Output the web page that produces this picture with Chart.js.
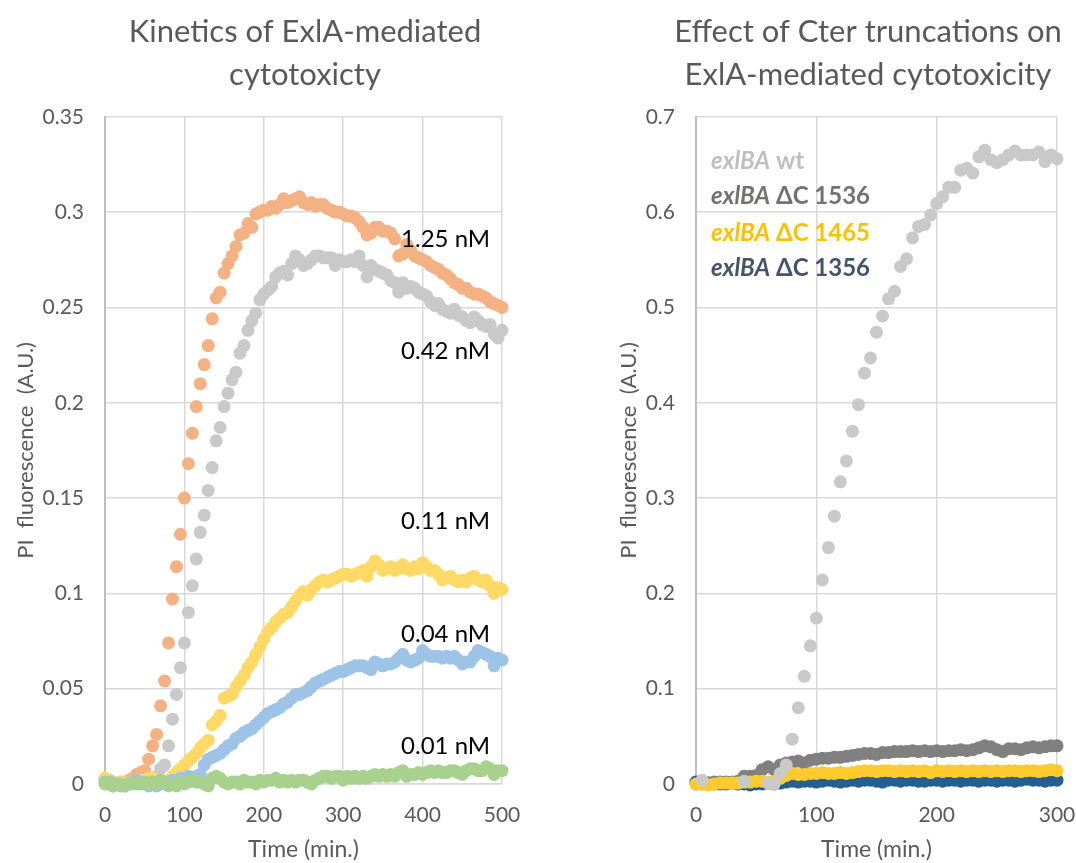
<!DOCTYPE html>
<html>
<head>
<meta charset="utf-8">
<script src="https://cdn.jsdelivr.net/npm/chart.js@4.4.0/dist/chart.umd.min.js"></script>
<style>
  html, body { margin: 0; padding: 0; background: #fff; }
  #wrap { position: relative; width: 1076px; height: 863px; overflow: hidden; }
  #leftBox { position: absolute; left: 0; top: 0; }
  #rightBox { position: absolute; left: 560px; top: 0; }
</style>
</head>
<body>
<div id="wrap">
  <div id="leftBox"><canvas id="kinetics" width="610" height="863"></canvas></div>
  <div id="rightBox"><canvas id="truncations" width="616" height="863"></canvas></div>
</div>
<script>
// ---- left panel: PI uptake for each ExlA concentration, sampled every 5 min ----
const kinTime = [0,5,10,15,20,25,30,35,40,45,50,55,60,65,70,75,80,85,90,95,
  100,105,110,115,120,125,130,135,140,145,150,155,160,165,170,175,180,185,190,195,
  200,205,210,215,220,225,230,235,240,245,250,255,260,265,270,275,280,285,290,295,
  300,305,310,315,320,325,330,335,340,345,350,355,360,365,370,375,380,385,390,395,
  400,405,410,415,420,425,430,435,440,445,450,455,460,465,470,475,480,485,490,495,500];

const conc125 = [0.003,0.002,0.001,0.000,0.000,0.001,0.002,0.003,0.005,0.006,
  0.007,0.013,0.020,0.026,0.041,0.054,0.074,0.097,0.114,0.131,
  0.150,0.168,0.184,0.198,0.210,0.220,0.230,0.244,0.255,0.258,
  0.268,0.273,0.277,0.282,0.288,0.289,0.294,0.292,0.299,0.300,
  0.301,0.301,0.303,0.302,0.304,0.307,0.305,0.306,0.307,0.308,
  0.305,0.304,0.305,0.303,0.304,0.304,0.302,0.301,0.300,0.300,
  0.299,0.298,0.298,0.297,0.295,0.292,0.288,0.289,0.292,0.292,
  0.290,0.290,0.289,0.286,0.277,0.278,0.283,0.280,0.277,0.276,
  0.275,0.274,0.272,0.271,0.270,0.268,0.267,0.265,0.263,0.262,
  0.260,0.260,0.258,0.257,0.257,0.256,0.255,0.253,0.252,0.251,0.250];

const conc042 = [0.001,0.002,0.001,0.000,0.001,0.000,0.001,0.000,0.001,0.002,
  0.001,0.002,0.002,0.004,0.008,0.010,0.020,0.034,0.047,0.061,
  0.074,0.090,0.104,0.118,0.132,0.141,0.154,0.166,0.180,0.187,
  0.198,0.205,0.212,0.216,0.226,0.230,0.238,0.243,0.247,0.254,
  0.257,0.259,0.261,0.266,0.268,0.269,0.267,0.273,0.277,0.275,
  0.272,0.273,0.275,0.277,0.277,0.276,0.276,0.276,0.272,0.275,
  0.274,0.274,0.275,0.274,0.277,0.272,0.266,0.272,0.270,0.269,
  0.268,0.267,0.264,0.263,0.258,0.263,0.260,0.261,0.260,0.258,
  0.257,0.256,0.253,0.251,0.252,0.249,0.248,0.247,0.249,0.246,
  0.245,0.243,0.242,0.245,0.243,0.241,0.240,0.241,0.236,0.234,0.238];

const conc011 = [0.003,0.001,0.000,0.000,0.001,0.000,0.000,0.001,0.001,0.002,
  0.002,0.003,0.003,0.001,0.000,0.001,0.002,0.004,0.006,0.008,
  0.010,0.012,0.014,0.016,0.019,0.021,0.023,0.031,0.033,0.036,
  0.045,0.046,0.047,0.051,0.054,0.057,0.061,0.064,0.068,0.072,
  0.076,0.080,0.082,0.085,0.087,0.089,0.090,0.093,0.096,0.099,
  0.101,0.099,0.102,0.104,0.106,0.107,0.106,0.107,0.108,0.109,
  0.110,0.110,0.109,0.110,0.111,0.112,0.109,0.114,0.117,0.115,
  0.112,0.113,0.114,0.112,0.113,0.115,0.113,0.112,0.114,0.113,
  0.116,0.114,0.112,0.112,0.110,0.107,0.108,0.109,0.107,0.106,
  0.107,0.106,0.108,0.109,0.107,0.106,0.107,0.104,0.100,0.103,0.102];

const conc004 = [0.001,0.000,-0.001,0.000,-0.001,-0.001,0.000,0.001,0.002,0.001,
  0.000,-0.001,0.000,-0.001,0.000,0.001,0.001,0.002,0.002,0.003,
  0.003,0.004,0.003,0.004,0.005,0.010,0.013,0.014,0.015,0.016,
  0.018,0.020,0.021,0.024,0.025,0.027,0.028,0.029,0.031,0.033,
  0.035,0.037,0.038,0.039,0.040,0.042,0.043,0.045,0.047,0.047,
  0.048,0.049,0.051,0.053,0.054,0.055,0.056,0.057,0.058,0.059,
  0.059,0.060,0.061,0.062,0.062,0.062,0.061,0.060,0.064,0.063,
  0.062,0.063,0.063,0.064,0.066,0.068,0.065,0.064,0.065,0.066,
  0.070,0.068,0.067,0.067,0.067,0.066,0.067,0.066,0.067,0.065,
  0.063,0.064,0.064,0.067,0.070,0.069,0.068,0.067,0.062,0.066,0.065];

const conc001 = [0.000,0.001,-0.001,0.000,0.000,-0.001,0.000,0.001,0.000,0.000,
  0.001,0.000,0.001,0.000,0.002,0.001,-0.001,0.000,-0.001,0.001,
  0.000,0.001,0.002,0.001,0.001,0.000,-0.001,0.003,0.004,0.003,
  0.001,0.000,0.001,0.001,0.000,0.002,0.001,0.001,0.000,0.002,
  0.001,0.002,0.002,0.003,0.001,0.002,0.001,0.002,0.001,0.002,
  0.002,0.001,0.000,0.002,0.003,0.004,0.004,0.003,0.004,0.004,
  0.002,0.004,0.003,0.004,0.003,0.004,0.003,0.004,0.005,0.004,
  0.005,0.004,0.005,0.004,0.006,0.007,0.004,0.005,0.005,0.006,
  0.005,0.006,0.007,0.006,0.007,0.006,0.006,0.007,0.007,0.006,
  0.005,0.007,0.008,0.008,0.007,0.007,0.009,0.008,0.005,0.007,0.007];

const kinXTicks = [0, 100, 200, 300, 400, 500];
const kinYTicks = [0, 0.05, 0.1, 0.15, 0.2, 0.25, 0.3, 0.35];

// ---- right panel: wild type vs C-terminal truncations ----
const truncTime = [0,5,10,15,20,25,30,35,40,45,50,55,60,65,70,75,80,85,90,95,
  100,105,110,115,120,125,130,135,140,145,150,155,160,165,170,175,180,185,190,195,
  200,205,210,215,220,225,230,235,240,245,250,255,260,265,270,275,280,285,290,295,300];

const wtTime = [5,40,60,65,70,75,80,85,90,95,100,105,110,115,120,125,130,135,140,145,
  150,155,160,165,170,175,180,185,190,195,200,205,210,215,220,225,230,235,240,245,
  250,255,260,265,270,275,280,285,290,295,300];
const wtValues = [0.004,0.003,0.001,0.000,
  0.011,0.020,0.047,0.080,0.113,0.145,0.174,0.214,0.248,0.281,
  0.317,0.339,0.370,0.398,0.431,0.447,0.474,0.491,0.509,0.517,
  0.543,0.551,0.573,0.585,0.587,0.597,0.609,0.616,0.626,0.626,
  0.644,0.646,0.641,0.658,0.665,0.655,0.652,0.655,0.660,0.664,
  0.660,0.660,0.660,0.663,0.653,0.660,0.656];

const dC1536 = [0.000,0.000,0.001,0.002,0.002,0.002,0.002,0.003,0.008,0.008,
  0.009,0.015,0.018,0.015,0.020,0.022,0.023,0.024,0.022,0.025,
  0.026,0.027,0.027,0.028,0.028,0.029,0.030,0.031,0.032,0.032,
  0.031,0.033,0.033,0.034,0.034,0.034,0.035,0.034,0.035,0.034,
  0.035,0.034,0.035,0.035,0.036,0.035,0.036,0.038,0.040,0.039,
  0.036,0.034,0.037,0.037,0.036,0.038,0.039,0.038,0.039,0.040,0.040];

const dC1465 = [0.000,0.000,-0.001,0.000,0.001,0.001,0.001,0.001,0.002,0.002,
  0.003,0.003,0.002,0.003,0.006,0.009,0.011,0.010,0.010,0.011,
  0.011,0.012,0.011,0.011,0.012,0.011,0.012,0.013,0.014,0.014,
  0.013,0.014,0.014,0.013,0.014,0.013,0.014,0.013,0.014,0.012,
  0.014,0.013,0.014,0.013,0.014,0.013,0.014,0.013,0.014,0.013,
  0.014,0.013,0.014,0.014,0.013,0.014,0.014,0.013,0.014,0.015,0.014];

const dC1356 = [0.002,0.003,0.001,0.000,0.000,0.000,0.001,0.000,0.000,-0.001,
  0.000,0.000,0.001,0.000,0.001,0.002,0.003,0.002,0.003,0.003,
  0.002,0.003,0.004,0.003,0.002,0.003,0.004,0.003,0.004,0.004,
  0.003,0.002,0.004,0.004,0.003,0.004,0.004,0.003,0.003,0.004,
  0.004,0.003,0.004,0.004,0.003,0.004,0.004,0.003,0.004,0.004,
  0.003,0.004,0.004,0.003,0.004,0.005,0.004,0.004,0.003,0.004,0.004];

const truncXTicks = [0, 100, 200, 300];
const truncYTicks = [0, 0.1, 0.2, 0.3, 0.4, 0.5, 0.6, 0.7];

// ---- shared look ----
const FONT = "Lato";
const GREY_TEXT = "#595959";
const GRID = "#D9D9D9";

Chart.defaults.font.family = FONT;
Chart.defaults.color = GREY_TEXT;

const toPoints = (xs, ys) => ys.map((v, i) => ({ x: xs[i], y: v }));

function dotSet(label, xs, ys, color, order) {
  return {
    label,
    data: toPoints(xs, ys),
    backgroundColor: color,
    borderColor: color,
    borderWidth: 0,
    pointRadius: 6.5,
    pointHoverRadius: 6.5,
    showLine: false,
    clip: false,
    order
  };
}

// free text drawn over the plot, positioned in data units
const textNotes = {
  id: "textNotes",
  afterDatasetsDraw(chart, args, opts) {
    const { ctx } = chart;
    const xs = chart.scales.x, ys = chart.scales.y;
    ctx.save();
    ctx.textBaseline = "middle";
    (opts.items || []).forEach(item => {
      let px = xs.getPixelForValue(item.x);
      const py = ys.getPixelForValue(item.y);
      if (item.runs) {
        ctx.textAlign = "left";
        item.runs.forEach(run => {
          ctx.font = `${run.italic ? "italic " : ""}${item.weight || "normal"} ${item.size}px ${FONT}`;
          ctx.fillStyle = item.color;
          ctx.fillText(run.text, px, py);
          px += ctx.measureText(run.text).width;
        });
      } else {
        ctx.textAlign = item.align || "left";
        ctx.font = `${item.weight || "normal"} ${item.size}px ${FONT}`;
        ctx.fillStyle = item.color;
        ctx.fillText(item.text, px, py);
      }
    });
    ctx.restore();
  }
};

function panelOptions(cfg) {
  return {
    responsive: false,
    animation: false,
    events: [],
    layout: { padding: 0 },
    plugins: {
      legend: { display: false },
      tooltip: { enabled: false },
      title: {
        display: true,
        text: cfg.title,
        color: GREY_TEXT,
        font: { size: 31, weight: "normal", lineHeight: 1.4 },
        padding: { top: 10, bottom: 20 }
      },
      textNotes: { items: cfg.notes }
    },
    scales: {
      x: {
        type: "linear",
        min: cfg.xTicks[0],
        max: cfg.xTicks[cfg.xTicks.length - 1],
        afterBuildTicks: axis => { axis.ticks = cfg.xTicks.map(v => ({ value: v })); },
        afterFit: axis => { axis.height = 79; },
        grid: { color: GRID, lineWidth: 1.5, drawTicks: false },
        border: { color: GRID, width: 1.5 },
        ticks: { color: GREY_TEXT, font: { size: 21 }, padding: 19, maxRotation: 0 },
        title: {
          display: true,
          text: "Time (min.)",
          color: GREY_TEXT,
          font: { size: 23, lineHeight: 1.2 },
          padding: { top: 0, bottom: 0 }
        }
      },
      y: {
        type: "linear",
        min: cfg.yTicks[0],
        max: cfg.yTicks[cfg.yTicks.length - 1],
        afterBuildTicks: axis => { axis.ticks = cfg.yTicks.map(v => ({ value: v })); },
        afterFit: axis => { axis.width = cfg.yWidth; },
        grid: { color: GRID, lineWidth: 1.5, drawTicks: false },
        border: { color: "#BFBFBF", width: 2 },
        ticks: { color: GREY_TEXT, font: { size: 21 }, padding: 21, callback: v => String(v) },
        title: {
          display: true,
          text: "PI  fluorescence  (A.U.)",
          color: GREY_TEXT,
          font: { size: 22, lineHeight: 1.2 },
          padding: { top: cfg.yTitlePad, bottom: 0 }
        }
      },
      // empty right-hand strip so the title stays centred on the whole panel
      spacer: {
        type: "linear",
        position: "right",
        afterFit: axis => { axis.width = cfg.rightGap; },
        grid: { display: false, drawOnChartArea: false },
        border: { display: false },
        ticks: { display: false }
      }
    }
  };
}

// left chart: dose series, lowest dose drawn on top
new Chart(document.getElementById("kinetics"), {
  type: "scatter",
  data: {
    datasets: [
      dotSet("1.25 nM", kinTime, conc125, "#F4B183", 4),
      dotSet("0.42 nM", kinTime, conc042, "#C9C9C9", 3),
      dotSet("0.11 nM", kinTime, conc011, "#FFD966", 2),
      dotSet("0.04 nM", kinTime, conc004, "#9DC3E6", 1),
      dotSet("0.01 nM", kinTime, conc001, "#A9D18E", 0)
    ]
  },
  options: panelOptions({
    title: ["Kinetics of ExlA-mediated", "cytotoxicty"],
    xTicks: kinXTicks,
    yTicks: kinYTicks,
    yWidth: 105,
    yTitlePad: 13,
    rightGap: 108,
    notes: [
      { x: 485, y: 0.2855, text: "1.25 nM", align: "right", size: 24, color: "#000" },
      { x: 485, y: 0.2268, text: "0.42 nM", align: "right", size: 24, color: "#000" },
      { x: 485, y: 0.1376, text: "0.11 nM", align: "right", size: 24, color: "#000" },
      { x: 485, y: 0.0787, text: "0.04 nM", align: "right", size: 24, color: "#000" },
      { x: 485, y: 0.0196, text: "0.01 nM", align: "right", size: 24, color: "#000" }
    ]
  }),
  plugins: [textNotes]
});

// right chart: wild type on top of the truncation mutants
new Chart(document.getElementById("truncations"), {
  type: "scatter",
  data: {
    datasets: [
      dotSet("exlBA wt", wtTime, wtValues, "#C9C9C9", 0),
      dotSet("exlBA \u0394C 1536", truncTime, dC1536, "#808080", 2),
      dotSet("exlBA \u0394C 1465", truncTime, dC1465, "#FFCA2E", 1),
      dotSet("exlBA \u0394C 1356", truncTime, dC1356, "#255E91", 3)
    ]
  },
  options: panelOptions({
    title: ["Effect of Cter truncations on", "ExlA-mediated cytotoxicity"],
    xTicks: truncXTicks,
    yTicks: truncYTicks,
    yWidth: 136,
    yTitlePad: 56,
    rightGap: 119,
    notes: [
      { x: 12.5, y: 0.653, size: 24, weight: "bold", color: "#BFBFBF",
        runs: [{ text: "exlBA", italic: true }, { text: " wt" }] },
      { x: 12.5, y: 0.617, size: 24, weight: "bold", color: "#767171",
        runs: [{ text: "exlBA", italic: true }, { text: " \u0394C 1536" }] },
      { x: 12.5, y: 0.578, size: 24, weight: "bold", color: "#FFC000",
        runs: [{ text: "exlBA", italic: true }, { text: " \u0394C 1465" }] },
      { x: 12.5, y: 0.541, size: 24, weight: "bold", color: "#44546A",
        runs: [{ text: "exlBA", italic: true }, { text: " \u0394C 1356" }] }
    ]
  }),
  plugins: [textNotes]
});
</script>
</body>
</html>
